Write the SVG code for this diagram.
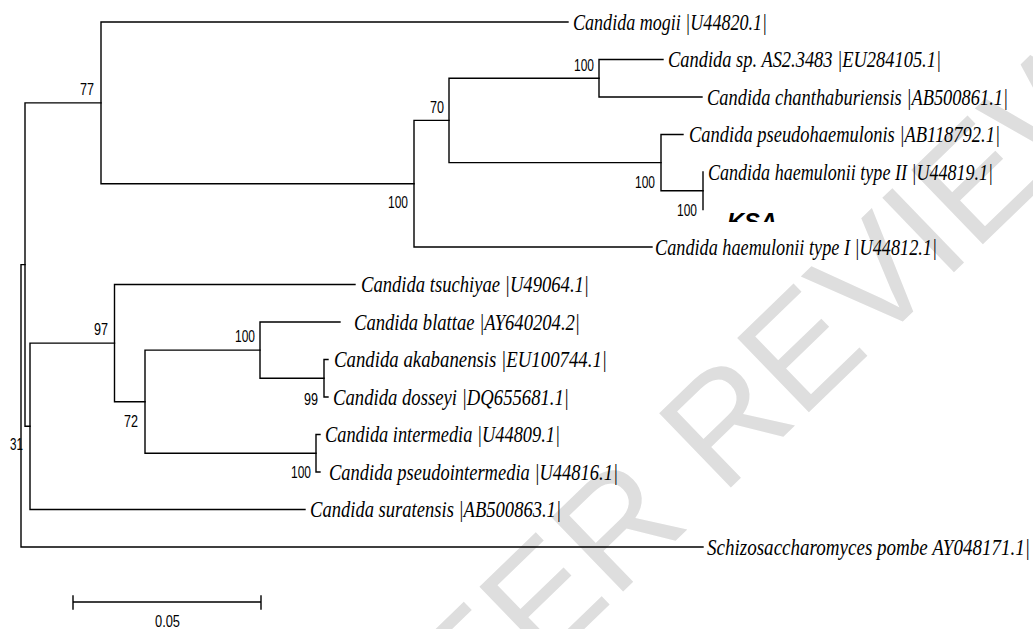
<svg xmlns="http://www.w3.org/2000/svg" width="1033" height="629" viewBox="0 0 1033 629">
<style>
.wm{font-family:"Liberation Sans",Arial,sans-serif;font-size:150px;fill:#dedede}
.br{fill:none;stroke:#000;stroke-width:1.4;stroke-linecap:square}
.tx{font-family:"Liberation Serif","Times New Roman",serif;font-style:italic;font-size:24px;fill:#000}
.bs{font-family:"Liberation Sans",Arial,sans-serif;font-size:16px;fill:#000}
.ksa{font-family:"Liberation Sans",Arial,sans-serif;font-weight:bold;font-style:italic;font-size:24px;fill:#000}
</style>
<defs>
<clipPath id="ksaclip"><rect x="700" y="200" width="120" height="22"/></clipPath>
</defs>
<rect width="1033" height="629" fill="#fff"/>
<text class="wm" transform="translate(722,496) rotate(-44)" x="-450" y="0">PEER REVIEW</text>

<g id="connectors" class="br">
<path d="M21 264.6V547M21 264.6H25M21 547H703"/>
<path d="M25 102.9V426.3M25 102.9H101M25 426.3H30"/>
<path d="M101 22V183.7M101 22H568M101 183.7H414"/>
<path d="M414 120.4V247M414 120.4H449M414 247H652"/>
<path d="M449 78.25V162.6M449 78.25H599M449 162.6H661"/>
<path d="M599 59.5V97M599 59.5H663M599 97H702"/>
<path d="M661 134.5V190.75M661 134.5H683M661 190.75H703"/>
<path d="M703 172V209.5"/>
<path d="M30 343.1V509.5M30 343.1H114.5M30 509.5H305"/>
<path d="M114.5 284.5V401.7M114.5 284.5H355M114.5 401.7H145"/>
<path d="M145 350.1V453.25M145 350.1H260M145 453.25H316"/>
<path d="M260 322V378.25M260 322H340M260 378.25H324"/>
<path d="M324 359.5V397M324 359.5H328M324 397H328"/>
<path d="M316 434.5V472M316 434.5H320M316 472H320"/>
<path d="M73 602H261M73 596V609M261 596V609"/>
</g>

<g id="leaf-mogii"><text class="tx" x="573" y="29.5" textLength="194" lengthAdjust="spacingAndGlyphs">Candida mogii |U44820.1|</text></g>
<g id="leaf-sp"><text class="tx" x="668" y="67" textLength="273" lengthAdjust="spacingAndGlyphs">Candida sp. AS2.3483 |EU284105.1|</text></g>
<g id="leaf-chanth"><text class="tx" x="707" y="104.5" textLength="301" lengthAdjust="spacingAndGlyphs">Candida chanthaburiensis |AB500861.1|</text></g>
<g id="leaf-pseudohaem"><text class="tx" x="689" y="142" textLength="311" lengthAdjust="spacingAndGlyphs">Candida pseudohaemulonis |AB118792.1|</text></g>
<g id="leaf-haemII"><text class="tx" x="708" y="179.5" textLength="285" lengthAdjust="spacingAndGlyphs">Candida haemulonii type II |U44819.1|</text></g>
<g id="leaf-ksa" clip-path="url(#ksaclip)"><text class="ksa" x="727" y="230" textLength="50" lengthAdjust="spacingAndGlyphs">KSA</text></g>
<g id="leaf-haemI"><text class="tx" x="655" y="254.5" textLength="282" lengthAdjust="spacingAndGlyphs">Candida haemulonii type I |U44812.1|</text></g>
<g id="leaf-tsuchiyae"><text class="tx" x="361" y="292" textLength="228" lengthAdjust="spacingAndGlyphs">Candida tsuchiyae |U49064.1|</text></g>
<g id="leaf-blattae"><text class="tx" x="354" y="329.5" textLength="226" lengthAdjust="spacingAndGlyphs">Candida blattae |AY640204.2|</text></g>
<g id="leaf-akabanensis"><text class="tx" x="334" y="367" textLength="273" lengthAdjust="spacingAndGlyphs">Candida akabanensis |EU100744.1|</text></g>
<g id="leaf-dosseyi"><text class="tx" x="333" y="404.5" textLength="236" lengthAdjust="spacingAndGlyphs">Candida dosseyi |DQ655681.1|</text></g>
<g id="leaf-intermedia"><text class="tx" x="325" y="442" textLength="235" lengthAdjust="spacingAndGlyphs">Candida intermedia |U44809.1|</text></g>
<g id="leaf-pseudointermedia"><text class="tx" x="329" y="479.5" textLength="289" lengthAdjust="spacingAndGlyphs">Candida pseudointermedia |U44816.1|</text></g>
<g id="leaf-suratensis"><text class="tx" x="310" y="517" textLength="251" lengthAdjust="spacingAndGlyphs">Candida suratensis |AB500863.1|</text></g>
<g id="leaf-pombe"><text class="tx" x="707" y="554.5" textLength="323" lengthAdjust="spacingAndGlyphs">Schizosaccharomyces pombe AY048171.1|</text></g>

<g id="node-77"><text class="bs" x="80" y="95" textLength="14" lengthAdjust="spacingAndGlyphs">77</text></g>
<g id="node-70"><text class="bs" x="430" y="113" textLength="14" lengthAdjust="spacingAndGlyphs">70</text></g>
<g id="node-100a"><text class="bs" x="388" y="208" textLength="20" lengthAdjust="spacingAndGlyphs">100</text></g>
<g id="node-100b"><text class="bs" x="574" y="71" textLength="20" lengthAdjust="spacingAndGlyphs">100</text></g>
<g id="node-100c"><text class="bs" x="635" y="188" textLength="20" lengthAdjust="spacingAndGlyphs">100</text></g>
<g id="node-100d"><text class="bs" x="677" y="216" textLength="20" lengthAdjust="spacingAndGlyphs">100</text></g>
<g id="node-97"><text class="bs" x="94" y="335" textLength="14" lengthAdjust="spacingAndGlyphs">97</text></g>
<g id="node-100e"><text class="bs" x="235" y="342" textLength="20" lengthAdjust="spacingAndGlyphs">100</text></g>
<g id="node-99"><text class="bs" x="304" y="405" textLength="14" lengthAdjust="spacingAndGlyphs">99</text></g>
<g id="node-72"><text class="bs" x="124" y="427" textLength="14" lengthAdjust="spacingAndGlyphs">72</text></g>
<g id="node-100f"><text class="bs" x="291" y="478" textLength="20" lengthAdjust="spacingAndGlyphs">100</text></g>
<g id="node-31"><text class="bs" x="10" y="450" textLength="13" lengthAdjust="spacingAndGlyphs">31</text></g>
<g id="scale"><text class="bs" x="155" y="627" textLength="25" lengthAdjust="spacingAndGlyphs">0.05</text></g>
</svg>
